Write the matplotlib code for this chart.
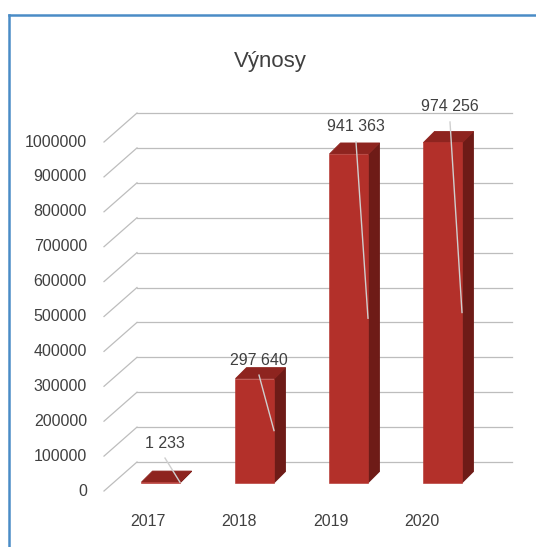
import matplotlib
matplotlib.use("Agg")
import matplotlib.pyplot as plt
from matplotlib.patches import Polygon

# ---- data ----
years = ["2017", "2018", "2019", "2020"]
revenues = [1233, 297640, 941363, 974256]
value_labels = ["1 233", "297 640", "941 363", "974 256"]
title = "Výnosy"
y_ticks = [0, 100000, 200000, 300000, 400000, 500000, 600000, 700000, 800000, 900000, 1000000]

# ---- layout (pixels) ----
W, H = 536, 547
X0 = 161.0          # px of first bar center
STEP = 94.0         # px between categories
Y0 = 482.5          # px of bar base (bar plane)
S = 349e-6          # px per unit value
BAR_W = 39.0        # front face width px
DEP_X, DEP_Y = 11.0, 11.0   # bar depth offset px (right, up)
FRONT = (-10.0, 8.5)        # front plane offset from bar plane (px, down positive)
BACK = (23.0, -20.5)        # back wall offset from bar plane
GRID_RIGHT_PX = 512.0
LABEL_DX = [4, 4, 7, 7]
LABEL_GAP = [28, 7.5, 16, 24.5]
XLAB_DX = [-13.5, -16, -18, -21]

plt.rcParams['font.family'] = ['Liberation Sans', 'DejaVu Sans']
TXT = '#404040'
FACE = '#B3302A'
TOP = '#8E241F'
SIDE = '#6E1B17'
GRID = '#BDBDBD'

fig = plt.figure(figsize=(W / 100, H / 100), dpi=100)
ax = fig.add_axes([0, 0, 1, 1])
ax.set_xlim((0 - X0) / STEP, (W - X0) / STEP)
ax.set_ylim((Y0 - H) / S, Y0 / S)
ax.axis('off')


def ox(px):
    return px / STEP


def oy(px):  # px measured downward
    return -px / S


def xpx(px):  # absolute pixel x -> data x
    return (px - X0) / STEP


# border
fig.add_artist(plt.Line2D([9 / W, 9 / W], [0, 1 - 15 / H], color='#4A8CC6', lw=1.8))
fig.add_artist(plt.Line2D([9 / W, 1], [1 - 15 / H, 1 - 15 / H], color='#4A8CC6', lw=1.8))

# title
fig.text(270 / W, 1 - 67 / H, title, ha='center', va='baseline', fontsize=16, color=TXT)

# grid: back wall lines and diagonals, tick labels on front plane
front_left = xpx(104)
back_left = xpx(137)
back_right = xpx(GRID_RIGHT_PX)
for v in y_ticks:
    yf = v + oy(FRONT[1])
    yb = v + oy(BACK[1])
    ax.plot([back_left, back_right], [yb, yb], color=GRID, lw=0.9, zorder=1)
    ax.plot([front_left, back_left], [yf, yb], color=GRID, lw=0.9, zorder=1)
    ax.text(front_left - ox(17), yf, f"{v}", ha='right', va='center',
            fontsize=11.5, color=TXT)

# bars
hw = ox(BAR_W / 2)
dx, dy = ox(DEP_X), oy(-DEP_Y)
for i, v in enumerate(revenues):
    x_l, x_r = i - hw, i + hw
    side = [(x_r, 0), (x_r + dx, dy), (x_r + dx, v + dy), (x_r, v)]
    top = [(x_l, v), (x_r, v), (x_r + dx, v + dy), (x_l + dx, v + dy)]
    front = [(x_l, 0), (x_r, 0), (x_r, v), (x_l, v)]
    ax.add_patch(Polygon(side, closed=True, facecolor=SIDE, edgecolor=SIDE, lw=0.6, zorder=3))
    ax.add_patch(Polygon(top, closed=True, facecolor=TOP, edgecolor=TOP, lw=0.6, zorder=3))
    ax.add_patch(Polygon(front, closed=True, facecolor=FACE, edgecolor=FACE, lw=0.4, zorder=3))

    # data label and leader line
    lx = i + ox(LABEL_DX[i])
    ly = v + dy + oy(-LABEL_GAP[i])
    ax.text(lx, ly, value_labels[i], ha='center', va='center', fontsize=11.5,
            color=TXT, zorder=6)
    ax.plot([lx, i + ox(19)], [ly + oy(15), v / 2], color='#CFCFCF', lw=1.0, zorder=5)

    # category label
    ax.text(i + ox(XLAB_DX[i]), oy(522 - Y0), years[i], ha='center', va='center',
            fontsize=11.5, color=TXT)

fig.savefig("out.png", dpi=100)
